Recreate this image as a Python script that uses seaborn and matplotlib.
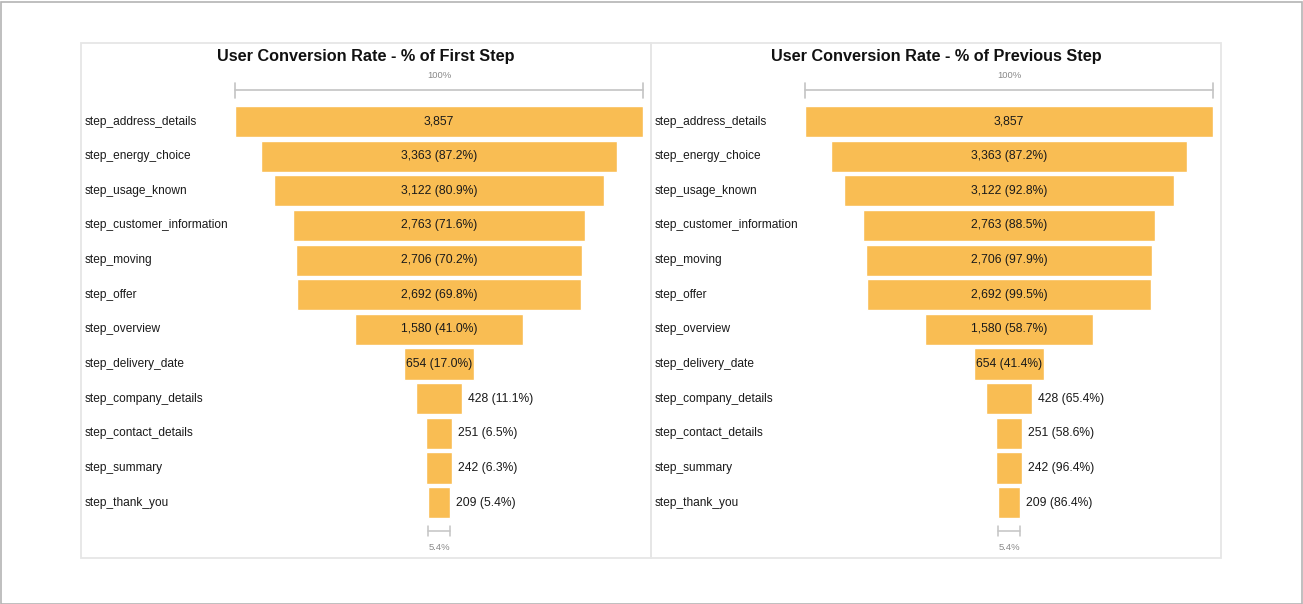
import matplotlib.pyplot as plt
import seaborn as sns
import pandas as pd
from matplotlib.patches import Rectangle
from matplotlib.lines import Line2D

# Funnel steps and user counts
steps = ["step_address_details", "step_energy_choice", "step_usage_known",
         "step_customer_information", "step_moving", "step_offer",
         "step_overview", "step_delivery_date", "step_company_details",
         "step_contact_details", "step_summary", "step_thank_you"]
users = [3857, 3363, 3122, 2763, 2706, 2692, 1580, 654, 428, 251, 242, 209]
pct_first = [None, 87.2, 80.9, 71.6, 70.2, 69.8, 41.0, 17.0, 11.1, 6.5, 6.3, 5.4]
pct_prev = [None, 87.2, 92.8, 88.5, 97.9, 99.5, 58.7, 41.4, 65.4, 58.6, 96.4, 86.4]
titles = ["User Conversion Rate - % of First Step",
          "User Conversion Rate - % of Previous Step"]
top_label = "100%"
bottom_label = "5.4%"

sns.set_theme(style="white")
plt.rcParams['font.family'] = ['Liberation Sans', 'DejaVu Sans']

W, H = 1303, 604
fig = plt.figure(figsize=(W / 100, H / 100), dpi=100)
fig.patch.set_facecolor("white")

bar_color = "#F9BD53"
df = pd.DataFrame({"step": steps, "users": users})
top = max(users)

# outer frame
fig.add_artist(Rectangle((0.5 / W, 0.5 / H), 1 - 2 / W, 1 - 2 / H,
                         transform=fig.transFigure, fill=False,
                         edgecolor="#b4b4b4", lw=1.2))

panels = [(81, 651), (651, 1221)]
row0, row_h = 121.5, 34.65

for k, (px0, px1) in enumerate(panels):
    labels_pct = pct_first if k == 0 else pct_prev
    # panel border
    fig.add_artist(Rectangle((px0 / W, 1 - 558 / H), (px1 - px0) / W, (558 - 43) / H,
                             transform=fig.transFigure, fill=False,
                             edgecolor="#e6e6e6", lw=1.3))
    fig.text((px0 + px1) / 2 / W, 1 - 56 / H, titles[k], ha="center", va="center",
             fontsize=11.7, fontweight="bold", color="#111111")

    bx0 = px0 + 154
    bx1 = px0 + 562
    ytop = row0 - row_h / 2
    ybot = row0 + row_h * (len(steps) - 0.5)
    ax = fig.add_axes([bx0 / W, 1 - ybot / H, (bx1 - bx0) / W, (ybot - ytop) / H])
    sns.barplot(data=df, x="users", y="step", orient="h", color=bar_color,
                saturation=1, width=0.9, ax=ax)
    # center the bars to form the funnel
    for p in ax.patches:
        w = p.get_width()
        p.set_x(-w / 2)
    ax.set_xlim(-top / 2, top / 2)
    ax.set_ylim(len(steps) - 0.5, -0.5)
    ax.axis("off")

    for i, (s, v) in enumerate(zip(steps, users)):
        ax.text(-top / 2 - (bx0 - px0 - 4) * top / (bx1 - bx0), i, s,
                ha="left", va="center", fontsize=8.6, color="#1a1a1a")
        txt = f"{v:,}" if labels_pct[i] is None else f"{v:,} ({labels_pct[i]:.1f}%)"
        if v / top > 0.15:
            ax.text(0, i, txt, ha="center", va="center", fontsize=8.7, color="#1a1a1a")
        else:
            ax.text(v / 2 + 6 * top / (bx1 - bx0), i, txt, ha="left", va="center",
                    fontsize=8.7, color="#1a1a1a")

    # top bracket (100%)
    yb = -0.5 - (ytop - 90) / row_h
    tick = 7.5 / row_h
    lc = "#c4c4c4"
    for xs, ys in [([-top / 2, top / 2], [yb, yb]),
                   ([-top / 2, -top / 2], [yb - tick, yb + tick]),
                   ([top / 2, top / 2], [yb - tick, yb + tick])]:
        ax.add_line(Line2D(xs, ys, color=lc, lw=1.2, clip_on=False))
    ax.text(0, yb - 14 / row_h, top_label, ha="center", va="center",
            fontsize=6.8, color="#888888", clip_on=False)

    # bottom bracket (last step)
    last = users[-1]
    yb2 = len(steps) - 0.5 + (531 - ybot) / row_h
    tick2 = 5 / row_h
    for xs, ys in [([-last / 2, last / 2], [yb2, yb2]),
                   ([-last / 2, -last / 2], [yb2 - tick2, yb2 + tick2]),
                   ([last / 2, last / 2], [yb2 - tick2, yb2 + tick2])]:
        ax.add_line(Line2D(xs, ys, color=lc, lw=1.1, clip_on=False))
    ax.text(0, yb2 + 17 / row_h, bottom_label, ha="center", va="center",
            fontsize=6.8, color="#888888", clip_on=False)

fig.savefig("out.png", dpi=100)
